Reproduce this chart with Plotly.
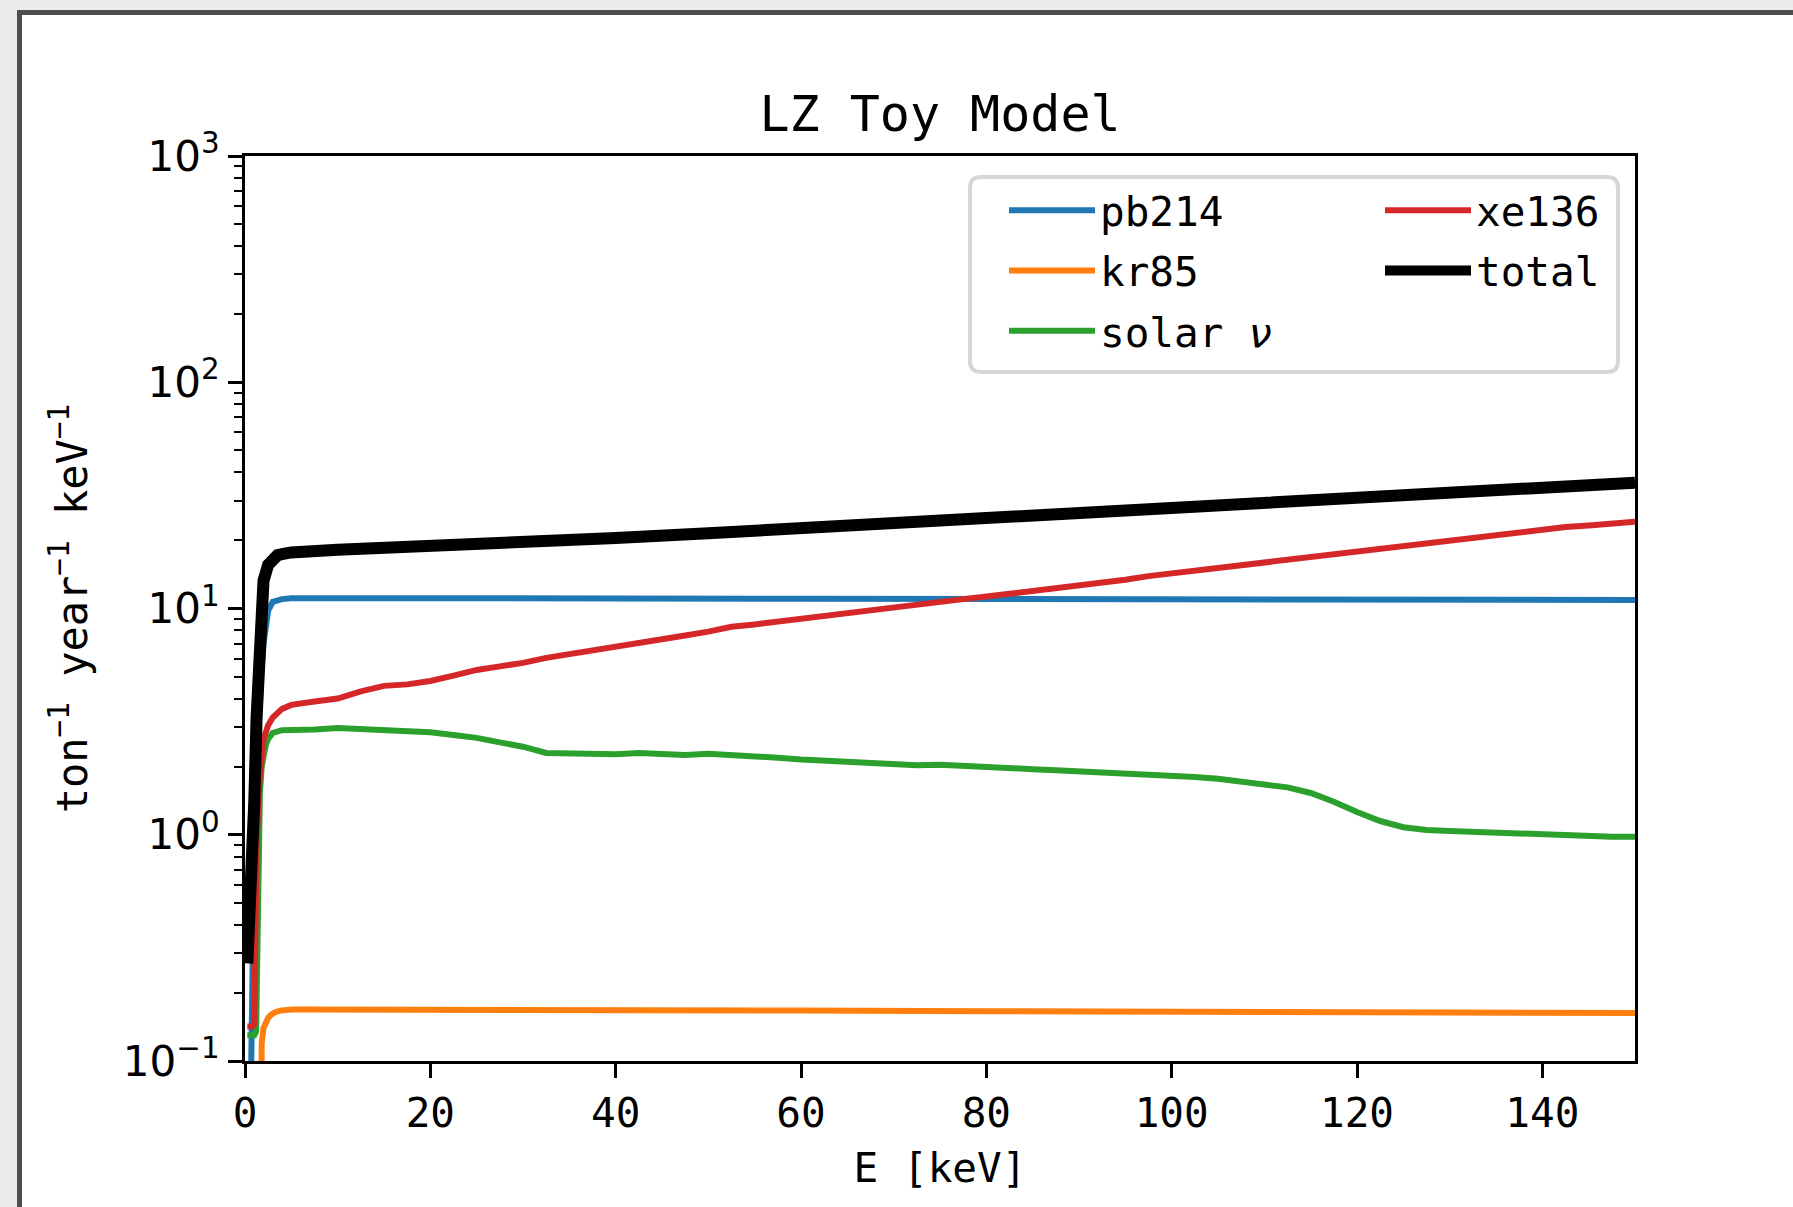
import plotly.graph_objects as go

# ---------------- data ----------------
E_hi = [5, 7.5, 10, 12.5, 15, 17.5, 20, 22.5, 25, 27.5, 30, 32.5, 35, 37.5, 40,
        42.5, 45, 47.5, 50, 52.5, 55, 57.5, 60, 62.5, 65, 67.5, 70, 72.5, 75,
        77.5, 80, 82.5, 85, 87.5, 90, 92.5, 95, 97.5, 100, 102.5, 105, 107.5,
        110, 112.5, 115, 117.5, 120, 122.5, 125, 127.5, 130, 132.5, 135, 137.5,
        140, 142.5, 145, 147.5, 150]

pb214_E = [0.5, 0.75, 1.0, 1.25, 1.5, 1.75, 2.0, 2.25, 2.5, 3.0, 4.0, 5, 10, 20,
           40, 60, 80, 100, 120, 150]
pb214_rate = [0.03, 0.35, 0.9, 1.8, 3.3, 5.2, 7.0, 8.6, 9.8, 10.7, 11.0, 11.1,
              11.12, 11.1, 11.08, 11.05, 11.02, 10.98, 10.95, 10.9]

kr85_E = [1.75, 1.8, 2.0, 2.2, 2.5, 2.8, 3.2, 3.8, 5, 7, 10, 20, 40, 60, 80,
          100, 120, 150]
kr85_rate = [0.02, 0.12, 0.14, 0.147, 0.155, 0.16, 0.164, 0.167, 0.169, 0.169,
             0.169, 0.169, 0.168, 0.167, 0.166, 0.165, 0.164, 0.163]

solar_E_low = [0.25, 0.5, 0.75, 1.0, 1.2, 1.4, 1.6, 1.8, 2.0, 2.25, 2.5, 3.0, 4.0]
solar_rate_low = [0.13, 0.13, 0.13, 0.13, 0.135, 0.7, 1.5, 2.0, 2.3, 2.5, 2.65,
                  2.82, 2.9]
solar_rate_hi = [2.90, 2.92, 2.96, 2.93, 2.90, 2.88, 2.84, 2.76, 2.68, 2.56,
                 2.45, 2.30, 2.28, 2.29, 2.27, 2.30, 2.27, 2.25, 2.28, 2.26,
                 2.22, 2.19, 2.15, 2.12, 2.10, 2.08, 2.05, 2.03, 2.04, 2.01,
                 2.00, 1.98, 1.95, 1.93, 1.91, 1.89, 1.88, 1.85, 1.82, 1.80,
                 1.77, 1.72, 1.67, 1.62, 1.53, 1.40, 1.26, 1.15, 1.08, 1.05,
                 1.04, 1.03, 1.02, 1.01, 1.00, 1.00, 0.99, 0.98, 0.98]

xe136_E_low = [0.25, 0.5, 0.75, 1.0, 1.1, 1.25, 1.5, 1.75, 2.0, 2.5, 3.0, 4.0]
xe136_rate_low = [0.142, 0.142, 0.142, 0.145, 0.4, 0.9, 1.6, 2.2, 2.65, 3.05,
                  3.3, 3.6]
xe136_rate_hi = [3.75, 3.88, 4.0, 4.3, 4.55, 4.62, 4.78, 5.05, 5.35, 5.55,
                 5.75, 6.05, 6.3, 6.5, 6.75, 7.1, 7.35, 7.6, 7.9, 8.3,
                 8.5, 8.75, 9.1, 9.35, 9.65, 9.9, 10.2, 10.5, 10.75, 11.0,
                 11.3, 11.6, 11.9, 12.3, 12.7, 13.0, 13.4, 13.9, 14.3, 14.6,
                 15.1, 15.5, 15.9, 16.4, 16.8, 17.4, 17.9, 18.3, 18.8, 19.4,
                 19.9, 20.6, 21.1, 21.7, 22.3, 22.9, 23.3, 23.8, 24.2]

total_E = [0.25, 0.5, 0.75, 1.0, 1.25, 1.5, 1.75, 2.0, 2.5, 3.0, 3.5, 4.0, 5,
           10, 15, 20, 30, 40, 50, 60, 70, 80, 90, 100, 110, 120, 130, 140, 150]
total_rate = [0.27, 0.42, 0.75, 1.4, 3.3, 7.0, 10.5, 13.3, 15.6, 16.6, 17.2,
              17.4, 17.7, 18.2, 18.5, 18.9, 19.6, 20.5, 21.5, 22.6, 23.6, 24.9,
              26.2, 27.5, 29.2, 30.8, 32.5, 34.2, 36.0]

solar_E = solar_E_low + E_hi
solar_rate = solar_rate_low + solar_rate_hi
xe136_E = xe136_E_low + E_hi
xe136_rate = xe136_rate_low + xe136_rate_hi

x_ticks = [0, 20, 40, 60, 80, 100, 120, 140]
y_ticks = [0.1, 1, 10, 100, 1000]
y_ticktext = ['10<sup>\u22121</sup>', '10<sup>0</sup>', '10<sup>1</sup>',
              '10<sup>2</sup>', '10<sup>3</sup>']
y_minor = [m * d for d in (0.1, 1, 10, 100) for m in range(2, 10)]

# ---------------- layout geometry (pixels) ----------------
W, H = 1793, 1207
L, R, T, B = 245, 1635, 156, 1061


def px(xp):
    return (xp - L) / (R - L)


def py(yp):
    return (B - yp) / (B - T)


MONO = 'DejaVu Sans Mono'
fig = go.Figure()

series = [
    ('pb214', pb214_E, pb214_rate, '#1f77b4', 6, 'legend'),
    ('kr85', kr85_E, kr85_rate, '#ff7f0e', 6, 'legend'),
    ('solar <i>\u03bd</i>', solar_E, solar_rate, '#2ca02c', 6, 'legend'),
    ('xe136', xe136_E, xe136_rate, '#d62728', 6, 'legend2'),
    ('total', total_E, total_rate, '#000000', 12, 'legend2'),
]
for name, xs, ys, col, w, leg in series:
    assert len(xs) == len(ys)
    fig.add_trace(go.Scatter(x=xs, y=ys, mode='lines', name=name,
                             legendgroup=name, legend=leg,
                             line=dict(color=col, width=w)))

# outer frame and legend box
fx0, fx1 = px(19.5), px(1900)
fy0, fy1 = py(1300), py(12.5)
shapes = [dict(type='rect', xref='paper', yref='paper', x0=fx0, x1=fx1,
               y0=fy0, y1=fy1, line=dict(color='#4d4d4d', width=5),
               fillcolor='white', layer='below')]

bx0, bx1, by0, by1, r = 970, 1618, 177, 372, 11
path = (f"M{px(bx0 + r)},{py(by0)} L{px(bx1 - r)},{py(by0)} "
        f"Q{px(bx1)},{py(by0)} {px(bx1)},{py(by0 + r)} "
        f"L{px(bx1)},{py(by1 - r)} Q{px(bx1)},{py(by1)} {px(bx1 - r)},{py(by1)} "
        f"L{px(bx0 + r)},{py(by1)} Q{px(bx0)},{py(by1)} {px(bx0)},{py(by1 - r)} "
        f"L{px(bx0)},{py(by0 + r)} Q{px(bx0)},{py(by0)} {px(bx0 + r)},{py(by0)} Z")
shapes.append(dict(type='path', xref='paper', yref='paper', path=path,
                   line=dict(color='#d6d6d6', width=4),
                   fillcolor='rgba(255,255,255,0.8)', layer='above'))

legend_common = dict(xanchor='left', yanchor='top', bgcolor='rgba(0,0,0,0)',
                     borderwidth=0, font=dict(family=MONO, size=41, color='black'),
                     itemwidth=86, tracegroupgap=4, traceorder='grouped',
                     valign='middle')

fig.update_layout(
    width=W, height=H,
    margin=dict(l=L, r=W - R, t=T, b=H - B, autoexpand=False),
    paper_bgcolor='#ebebeb', plot_bgcolor='white',
    font=dict(family=MONO, size=41, color='black'),
    title=dict(text='LZ Toy Model', x=0.5, xref='paper', xanchor='center',
               y=1 - 131 / H, yanchor='bottom', yref='container',
               font=dict(family=MONO, size=50, color='black')),
    showlegend=True,
    legend=dict(x=px(1004), y=py(177), **legend_common),
    legend2=dict(x=px(1380), y=py(177), **legend_common),
    shapes=shapes,
    xaxis=dict(range=[0, 150], tickmode='array', tickvals=x_ticks,
               ticks='outside', ticklen=14, tickwidth=3, tickcolor='black',
               showline=True, linecolor='black', linewidth=3, mirror=True,
               showgrid=False, zeroline=False, automargin=False,
               tickfont=dict(family=MONO, size=41, color='black'),
               title=dict(text='E [keV]', standoff=18,
                          font=dict(family=MONO, size=41, color='black'))),
    yaxis=dict(type='log', range=[-1, 3], tickmode='array', tickvals=y_ticks,
               ticktext=y_ticktext, ticks='outside', ticklen=14, tickwidth=3,
               tickcolor='black', showline=True, linecolor='black',
               linewidth=3, mirror=True, showgrid=False, zeroline=False,
               automargin=False,
               tickfont=dict(family='DejaVu Sans', size=42, color='black'),
               minor=dict(tickmode='array', tickvals=y_minor, ticks='outside',
                          ticklen=8, tickwidth=2, tickcolor='black',
                          showgrid=False),
               title=dict(text='ton<sup>\u22121</sup> year<sup>\u22121</sup> keV<sup>\u22121</sup>',
                          standoff=23,
                          font=dict(family=MONO, size=42, color='black'))),
)

fig.write_html('out.html')
